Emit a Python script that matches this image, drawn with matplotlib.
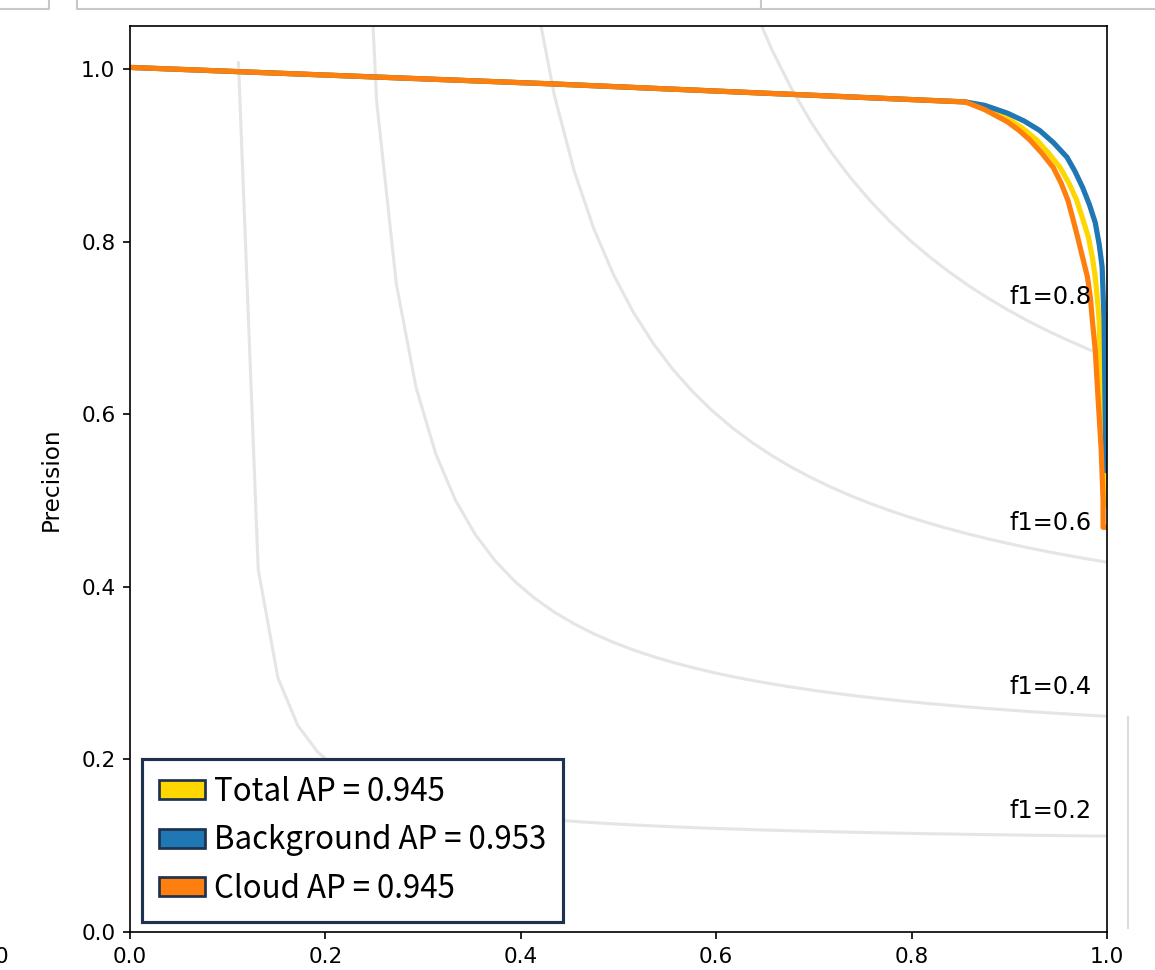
import numpy as np
import matplotlib.pyplot as plt
from matplotlib.patches import Patch
from matplotlib.lines import Line2D

plt.rcParams['font.family'] = 'DejaVu Sans'

# precision-recall points
total_recall = [0.0, 0.43, 0.855, 0.875, 0.898, 0.913, 0.928, 0.940, 0.952, 0.961, 0.969,
                0.975, 0.981, 0.985, 0.988, 0.990, 0.992, 0.994, 0.996, 0.999]
total_precision = [1.002, 0.983, 0.962, 0.955, 0.943, 0.932, 0.918, 0.903, 0.886, 0.868, 0.848,
                   0.827, 0.805, 0.782, 0.759, 0.735, 0.709, 0.616, 0.56, 0.495]

bg_recall = [0.0, 0.43, 0.855, 0.875, 0.898, 0.915, 0.931, 0.945, 0.959, 0.967, 0.975,
             0.982, 0.988, 0.992, 0.995, 0.997, 0.998, 0.999]
bg_precision = [1.002, 0.983, 0.962, 0.958, 0.949, 0.940, 0.929, 0.915, 0.898, 0.882, 0.863,
                0.843, 0.822, 0.797, 0.771, 0.709, 0.616, 0.535]

cloud_recall = [0.0, 0.43, 0.855, 0.875, 0.898, 0.910, 0.921, 0.933, 0.945, 0.953, 0.960,
                0.965, 0.970, 0.975, 0.980, 0.983, 0.985, 0.988, 0.991, 0.994, 0.996, 0.996, 1.0]
cloud_precision = [1.002, 0.983, 0.962, 0.953, 0.939, 0.929, 0.918, 0.903, 0.886, 0.868, 0.848,
                   0.827, 0.805, 0.782, 0.759, 0.735, 0.709, 0.674, 0.616, 0.56, 0.50, 0.469, 0.469]

labels = ['Total AP = 0.945', 'Background AP = 0.953', 'Cloud AP = 0.945']
colors = ['gold', '#1f77b4', '#ff7f0e']
f1_levels = [0.2, 0.4, 0.6, 0.8]

W, H = 1155, 970
fig = plt.figure(figsize=(W / 150, H / 150), dpi=150)
ax = fig.add_axes([130 / W, 1 - 932 / H, 977 / W, 906 / H])

# iso-f1 guide curves
for f in f1_levels:
    x = np.linspace(0.01, 1)
    y = f * x / (2 * x - f)
    ax.plot(x[y >= 0], y[y >= 0], color='gray', alpha=0.2)
    ax.annotate('f1={0:0.1f}'.format(f), xy=(0.9, y[45] + 0.02), fontsize=11.5)

ax.plot(total_recall, total_precision, color=colors[0], lw=2.5)
ax.plot(bg_recall, bg_precision, color=colors[1], lw=2.5)
ax.plot(cloud_recall, cloud_precision, color=colors[2], lw=2.5)

ax.set_xlim(0.0, 1.0)
ax.set_ylim(0.0, 1.05)
ax.set_ylabel('Precision', fontsize=11.2, labelpad=9)
ax.tick_params(labelsize=10.4)

navy = '#1e3250'
handles = [Patch(facecolor=c, edgecolor=navy, linewidth=1.3) for c in colors]
leg = ax.legend(handles, labels, loc='lower left', bbox_to_anchor=(0.0123, 0.011),
                borderaxespad=0, fancybox=False, framealpha=1, edgecolor=navy,
                prop={'family': ['Noto Sans CJK KR', 'DejaVu Sans'], 'size': 15},
                handlelength=1.45, handleheight=0.55, handletextpad=0.3,
                borderpad=0.55, labelspacing=0.53)
leg.get_frame().set_linewidth(1.5)

# screenshot leftovers around the plot
def px_line(xs, ys, **kw):
    fig.add_artist(Line2D([v / W for v in xs], [1 - v / H for v in ys], **kw))

gray = '#c8c8c8'
px_line([0, 49, 49], [9, 9, -1], color=gray, lw=1)
px_line([77, 77, 1160], [-1, 9, 9], color=gray, lw=1)
px_line([761, 761], [-1, 9], color=gray, lw=1)
px_line([1128, 1128], [717, 928], color='#dcdcdc', lw=1)
fig.text(8 / W, 1 - 957 / H, '0', ha='right', va='center', fontsize=10.4)

fig.savefig('out.png', dpi=150)
